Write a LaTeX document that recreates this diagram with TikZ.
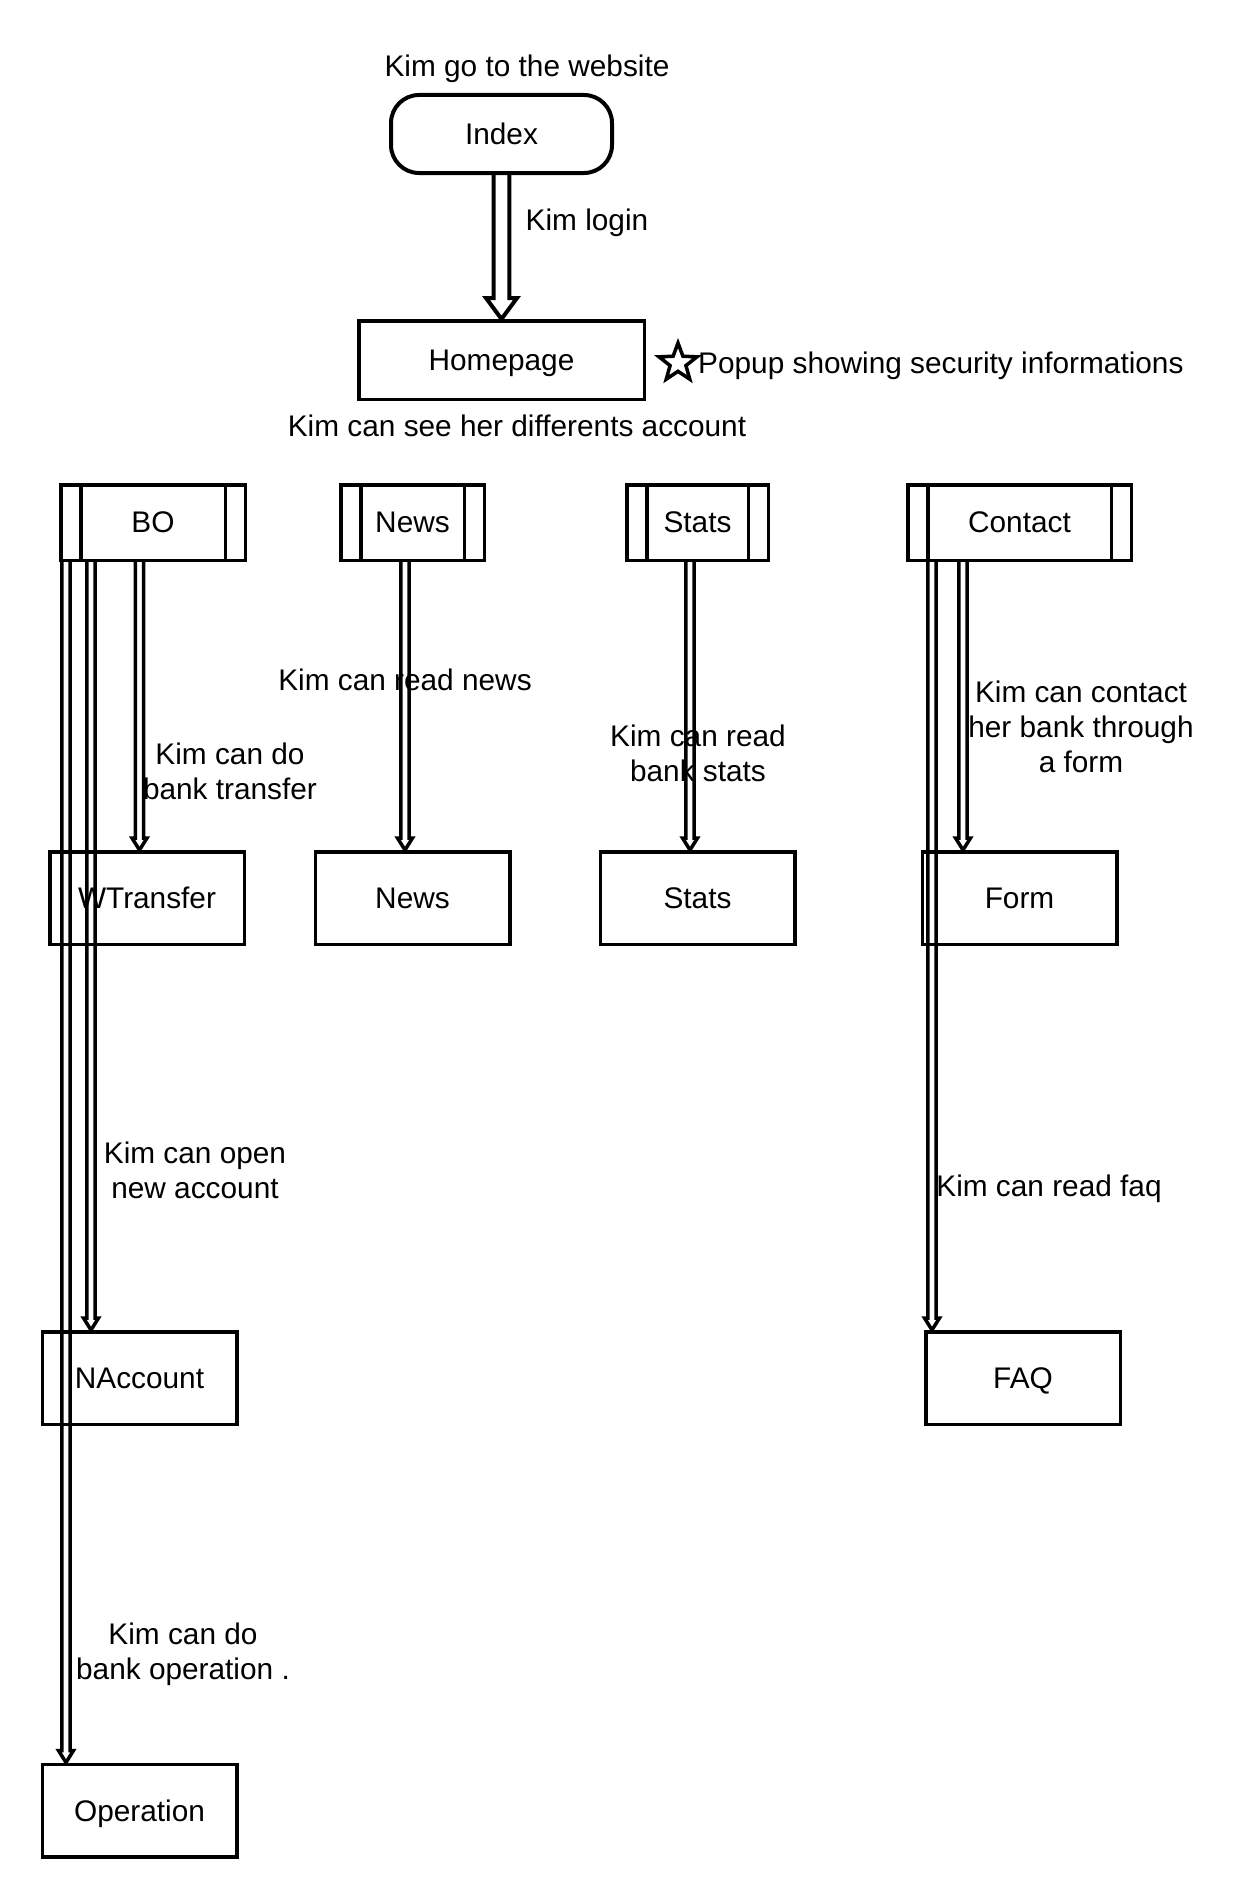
\documentclass[tikz,border=0pt]{standalone}
\usepackage{fontspec}
\setmainfont{Liberation Sans}
\usetikzlibrary{calc,shapes.geometric}

% outlined block arrow going down: [style]{start}{end}{shaft half}{head half}{head length}
\newcommand{\flowarrow}[6][]{%
  \draw[flow,#1] let \p1=(#2), \p2=(#3) in
    (\x1-#4,\y1) -- (\x1-#4,\y2+#6) -- (\x1-#5,\y2+#6) -- (\x1,\y2)
    -- (\x1+#5,\y2+#6) -- (\x1+#4,\y2+#6) -- (\x1+#4,\y1);
}
\newcommand{\smallflow}[2]{\flowarrow{#1}{#2}{4.1pt}{7.5pt}{12pt}}

\tikzset{
  txt/.style={font=\fontsize{29.8}{35}\selectfont, text depth=0pt},
  box/.style={draw, line width=3.5pt, inner sep=0pt, txt},
  procbox/.style={box, minimum height=75.5pt, path picture={
      \draw[line width=3.5pt] ([xshift=20pt]path picture bounding box.north west)
        -- ([xshift=20pt]path picture bounding box.south west);
      \draw[line width=3.5pt] ([xshift=-20pt]path picture bounding box.north east)
        -- ([xshift=-20pt]path picture bounding box.south east);}},
  pagebox/.style={box, minimum width=194.5pt, minimum height=92.5pt},
  note/.style={inner sep=0pt, align=center, txt},
  flow/.style={line width=3.5pt},
}

\begin{document}
\begin{tikzpicture}[x=1pt,y=-1pt]
  \useasboundingbox (0,0) rectangle (1249,1900);

  % Start
  \node[note] (goweb) at (527,66) {Kim go to the website};
  \node[box, line width=4pt, rounded corners=28pt, minimum width=221pt, minimum height=78pt] (index) at (501.5,134) {Index};
  \node[box, minimum width=285.5pt, minimum height=78.5pt] (home) at (501.5,360) {Homepage};
  \node[note] (login) at (587,220) {Kim login};

  % Popup
  \node[draw, star, star points=5, star point ratio=2.4, minimum size=40pt, inner sep=0pt, line width=3.5pt] (popstar) at (678,363) {};
  \node[note, anchor=west] (popup) at (698,363) {Popup showing security informations};
  \node[note] (accounts) at (517,426) {Kim can see her differents account};

  % Menu
  \node[procbox, minimum width=184.5pt] (bo) at (153,522.5) {BO};
  \node[procbox, minimum width=143.5pt] (news) at (412.5,522.5) {News};
  \node[procbox, minimum width=141.5pt] (stats) at (697.5,522.5) {Stats};
  \node[procbox, minimum width=223.5pt] (contact) at (1019.5,522.5) {Contact};

  % Pages
  \node[pagebox] (wtransfer) at (147,898) {WTransfer};
  \node[pagebox] (newspage) at (412.5,898) {News};
  \node[pagebox] (statspage) at (697.5,898) {Stats};
  \node[pagebox] (form) at (1019.5,898) {Form};
  \node[pagebox] (naccount) at (139.5,1378) {NAccount};
  \node[pagebox] (faq) at (1023,1378) {FAQ};
  \node[pagebox] (operation) at (139.5,1810.5) {Operation};

  % Arrows
  \flowarrow[line width=4pt]{index.south}{home.north}{7.8pt}{15.5pt}{21pt}
  \smallflow{[xshift=-13.5pt]bo.south}{wtransfer.north}
  \smallflow{[xshift=-62pt]bo.south}{naccount.north}
  \smallflow{[xshift=-87pt]bo.south}{operation.north}
  \smallflow{[xshift=-7.5pt]news.south}{newspage.north}
  \smallflow{[xshift=-7.5pt]stats.south}{statspage.north}
  \smallflow{[xshift=-56.5pt]contact.south}{form.north}
  \smallflow{[xshift=-87.5pt]contact.south}{faq.north}

  % Labels
  \node[note] (readnews) at (405,680) {Kim can read news};
  \node[note] (transfer) at (230,771) {Kim can do\\bank transfer};
  \node[note] (readstats) at (698,753) {Kim can read\\bank stats};
  \node[note] (contactform) at (1081,727) {Kim can contact\\her bank through\\a form};
  \node[note] (openacc) at (195,1170) {Kim can open\\new account};
  \node[note] (readfaq) at (1049,1186) {Kim can read faq};
  \node[note] (bankop) at (183,1651) {Kim can do\\bank operation .};
\end{tikzpicture}
\end{document}
